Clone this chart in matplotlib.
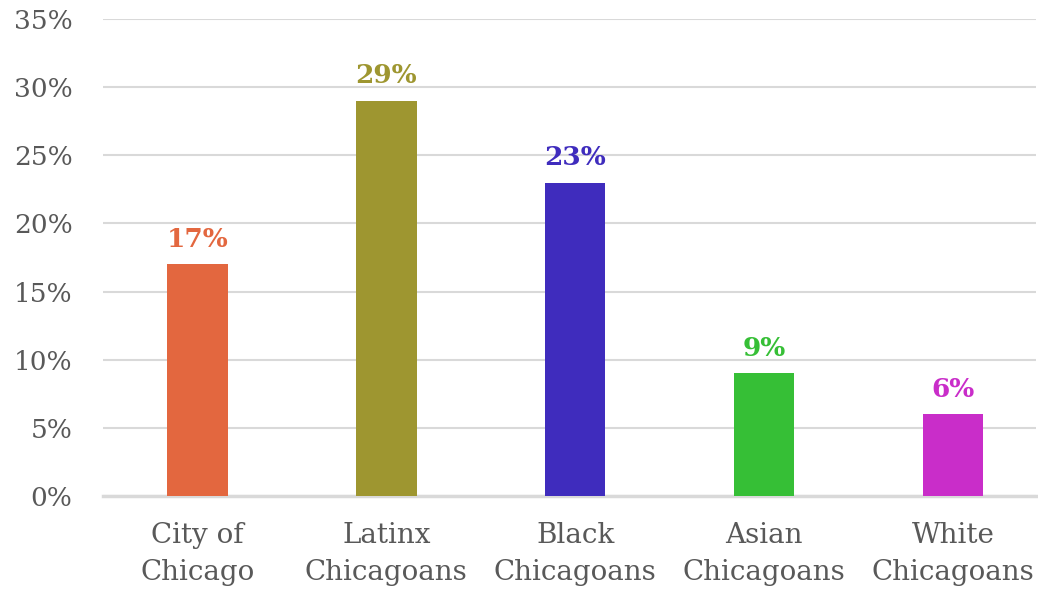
import matplotlib
matplotlib.use("Agg")
import matplotlib.pyplot as plt
from matplotlib.ticker import FuncFormatter

categories = ["City of\nChicago", "Latinx\nChicagoans", "Black\nChicagoans", "Asian\nChicagoans", "White\nChicagoans"]
values = [17, 29, 23, 9, 6]
labels = ["17%", "29%", "23%", "9%", "6%"]
colors = ["#E3673F", "#9E9630", "#3F2CBD", "#36BF36", "#C92DC9"]
yticks = [0, 5, 10, 15, 20, 25, 30, 35]

plt.rcParams['font.family'] = ['DejaVu Serif']
fig = plt.figure(figsize=(10.38, 5.91), dpi=100)
W, H = 1038, 591
ax = fig.add_axes([103 / W, (H - 496) / H, (1036 - 103) / W, (496 - 19) / H])

x = list(range(len(categories)))
ax.bar(x, values, width=0.32, color=colors, zorder=3)
for xi, v, lab, c in zip(x, values, labels, colors):
    ax.annotate(lab, (xi, v), xytext=(0, 9), textcoords="offset points",
                ha="center", va="bottom", fontsize=19, fontweight="bold", color=c)

ax.set_ylim(0, 35)
ax.set_xlim(-0.5, 4.44)
ax.set_yticks(yticks)
ax.yaxis.set_major_formatter(FuncFormatter(lambda v, p: f"{int(v)}%"))
ax.set_xticks(x)
ax.set_xticklabels(categories, fontsize=20, color="#595959", linespacing=1.45)
ax.tick_params(axis="y", labelsize=19, labelcolor="#595959", length=0, pad=22)
ax.tick_params(axis="x", length=0, pad=19)
ax.grid(axis="y", color="#D9D9D9", linewidth=1.5, zorder=0)
for s in ["top", "right", "left"]:
    ax.spines[s].set_visible(False)
ax.spines["bottom"].set_color("#D9D9D9")
ax.spines["bottom"].set_linewidth(2.5)

fig.savefig("out.png", dpi=100)
